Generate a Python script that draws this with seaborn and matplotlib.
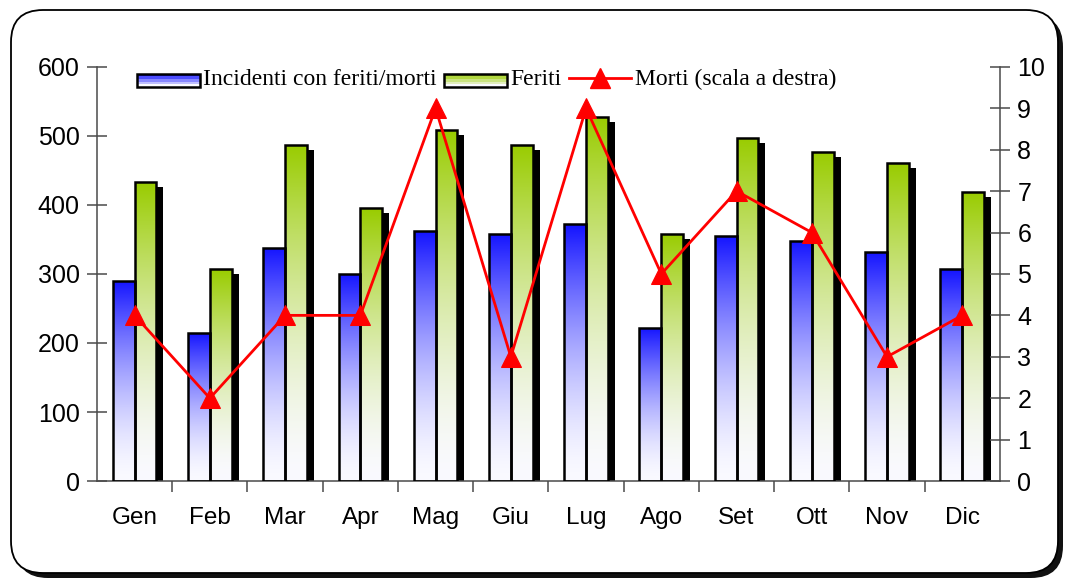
import numpy as np
import pandas as pd
import matplotlib
matplotlib.use('Agg')
import matplotlib.pyplot as plt
import matplotlib.transforms as mtransforms
from matplotlib.patches import FancyBboxPatch, Rectangle
from matplotlib.legend_handler import HandlerBase
from matplotlib.lines import Line2D
from matplotlib.colors import to_rgb
import seaborn as sns

mesi = ['Gen', 'Feb', 'Mar', 'Apr', 'Mag', 'Giu', 'Lug', 'Ago', 'Set', 'Ott', 'Nov', 'Dic']
incidenti = [290, 215, 338, 300, 362, 358, 372, 222, 355, 348, 332, 307]
feriti = [433, 307, 487, 395, 508, 487, 528, 358, 497, 477, 460, 419]
morti = [4, 2, 4, 4, 9, 3, 9, 5, 7, 6, 3, 4]

lab_inc = 'Incidenti con feriti/morti'
lab_fer = 'Feriti'
lab_mor = 'Morti (scala a destra)'

df = pd.DataFrame({
    'mese': mesi * 2,
    'valore': incidenti + feriti,
    'serie': [lab_inc] * 12 + [lab_fer] * 12,
})
df_m = pd.DataFrame({'mese': mesi, 'morti': morti})

BLUE = '#1414ff'
GREEN = '#99cc00'
AXC = '#4a4a4a'


def gradient(top, n=256, gamma=1.6):
    # top colour at the top of the bar, almost white at the bottom
    t = np.linspace(0, 1, n) ** gamma  # 0 at bottom, 1 at top
    c = np.array(to_rgb(top))
    w = np.array([0.98, 0.98, 1.0])
    img = w[None, :] * (1 - t[:, None]) + c[None, :] * t[:, None]
    return img[:, None, :]


class GradHandler(HandlerBase):
    def __init__(self, color):
        super().__init__()
        self.color = color

    def create_artists(self, legend, orig_handle, xd, yd, width, height, fontsize, trans):
        arts = []
        cols = gradient(self.color, n=5, gamma=1.0)[:, 0, :]
        for i in range(5):
            r = Rectangle((xd, yd + height * i / 5), width, height / 5,
                          facecolor=cols[i], edgecolor='none', transform=trans)
            arts.append(r)
        arts.append(Rectangle((xd, yd), width, height, facecolor='none',
                              edgecolor='black', lw=1.8, transform=trans))
        return arts


plt.rcParams['font.family'] = ['Liberation Sans', 'DejaVu Sans']
fig = plt.figure(figsize=(10.66, 5.81), dpi=100)

# rounded frame with shadow, in pixel coordinates
pix = mtransforms.IdentityTransform()
shadow = FancyBboxPatch((16, 3), 1047, 563, boxstyle='round,pad=0,rounding_size=32',
                        transform=pix, facecolor='#111111', edgecolor='none', zorder=0)
frame = FancyBboxPatch((11, 8), 1047, 563, boxstyle='round,pad=0,rounding_size=32',
                       transform=pix, facecolor='white', edgecolor='black',
                       lw=1.3, zorder=1)
fig.patches.extend([shadow, frame])

ax = fig.add_axes([0.091, 0.172, 0.847, 0.713])
ax.set_zorder(2)
ax.patch.set_alpha(0)

sns.barplot(data=df, x='mese', y='valore', hue='serie', order=mesi,
            hue_order=[lab_inc, lab_fer], width=0.58, gap=0, ax=ax,
            legend=False, saturation=1)

bars = [p for p in ax.patches if p.get_height() > 0]
shift = mtransforms.ScaledTranslation(7 / 100, -5 / 100, fig.dpi_scale_trans)
for p in bars:
    x0, w, h = p.get_x(), p.get_width(), p.get_height()
    is_green = x0 + w / 2 > round(x0 + w / 2)
    col = GREEN if is_green else BLUE
    if is_green:
        sh = Rectangle((x0, 0), w, h, facecolor='black', edgecolor='none',
                       transform=ax.transData + shift, zorder=1)
        ax.add_patch(sh)
    im = ax.imshow(gradient(col), extent=[x0, x0 + w, 0, h], origin='lower',
                   aspect='auto', zorder=2, interpolation='bilinear')
    im.set_clip_path(p)
    p.set_facecolor('none')
    p.set_edgecolor('black')
    p.set_linewidth(1.8)
    p.set_zorder(3)

ax.set_xlim(-0.5, 11.5)
ax.set_ylim(0, 600)
ax.set_yticks(range(0, 601, 100))
ax.set_xticks(np.arange(0.5, 11, 1))
ax.set_xticklabels([])
ax.set_xticks(range(12), minor=True)
ax.set_xticklabels(mesi, minor=True)
ax.tick_params(axis='x', which='major', direction='out', length=8, color=AXC, width=1.1)
ax.tick_params(axis='x', which='minor', length=0, pad=19, labelsize=17.5)
ax.tick_params(axis='y', direction='inout', length=15, color=AXC, width=1.1,
               labelsize=18, pad=5)
ax.set_xlabel('')
ax.set_ylabel('')
for s in ['top', 'right']:
    ax.spines[s].set_visible(False)
for s in ['left', 'bottom']:
    ax.spines[s].set_color(AXC)
    ax.spines[s].set_linewidth(1.1)

ax2 = ax.twinx()
ax2.set_zorder(3)
sns.lineplot(data=df_m, x='mese', y='morti', ax=ax2, color='#ff0000', lw=2,
             marker='^', markersize=14, markeredgecolor='#ff0000', sort=False)
ax2.set_ylim(0, 10)
ax2.set_yticks(range(0, 11))
ax2.set_ylabel('')
ax2.tick_params(axis='y', direction='inout', length=15, color=AXC, width=1.1,
                labelsize=18, pad=5)
for s in ['top', 'left', 'bottom']:
    ax2.spines[s].set_visible(False)
ax2.spines['right'].set_color(AXC)
ax2.spines['right'].set_linewidth(1.1)

h_inc = Rectangle((0, 0), 1, 1)
h_fer = Rectangle((0, 0), 1, 1)
h_mor = Line2D([], [], color='#ff0000', lw=2, marker='^', markersize=14)
ax2.legend([h_inc, h_fer, h_mor], [lab_inc, lab_fer, lab_mor], ncol=3,
           loc='upper left', bbox_to_anchor=(0.12, 0.897), bbox_transform=fig.transFigure,
           frameon=False, handlelength=2.65, handleheight=0.5, handletextpad=0.15,
           columnspacing=0.3, borderaxespad=0,
           prop={'family': 'Liberation Serif', 'size': 17},
           handler_map={h_inc: GradHandler(BLUE), h_fer: GradHandler(GREEN)})

fig.savefig('out.png', dpi=100)
